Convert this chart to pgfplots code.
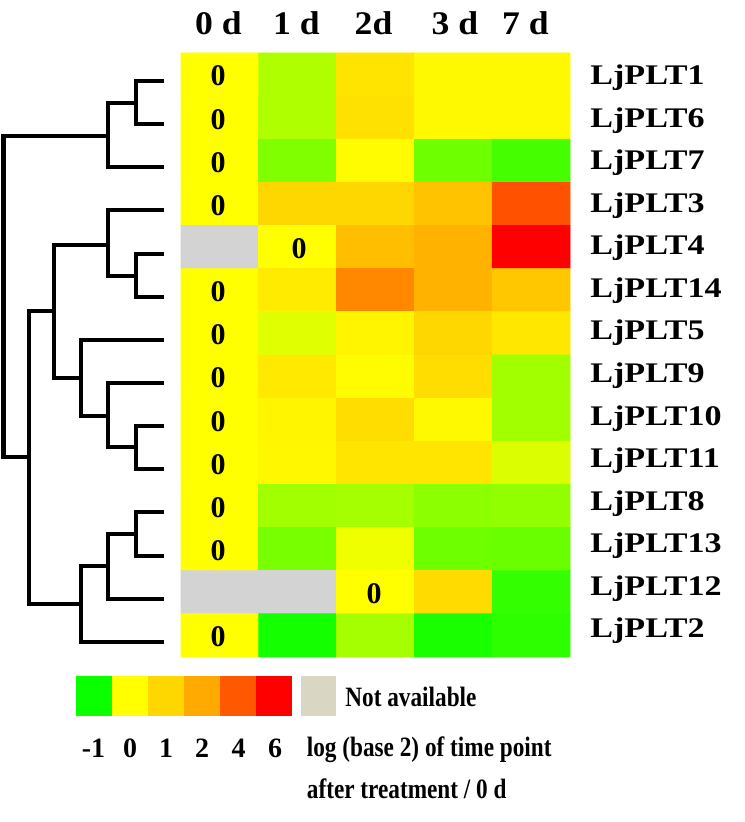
\documentclass[border=0pt]{standalone}
\usepackage{fontspec}
\setmainfont{Liberation Serif}
\usepackage{graphicx}
\usepackage{pgfplots}
\usepackage{pgfplotstable}
\pgfplotsset{compat=1.18}

% heat values, row r = gene (top to bottom), col c = 0d,1d,2d,3d,7d
% -2 marks "not available" (grey)
\pgfplotstableread{
c r v
0 0 0
1 0 -0.31
2 0 0.68
3 0 0.15
4 0 0.15
0 1 0
1 1 -0.31
2 1 0.75
3 1 0.15
4 1 0.15
0 2 0
1 2 -0.5
2 2 0.1
3 2 -0.57
4 2 -0.73
0 3 0
1 3 1.0
2 3 1.0
3 3 1.45
4 3 4.1
0 4 -2
1 4 0
2 4 1.55
3 4 1.8
4 4 6
0 5 0
1 5 0.5
2 5 2.8
3 5 1.8
4 5 1.35
0 6 0
1 6 -0.12
2 6 0.25
3 6 1.0
4 6 0.6
0 7 0
1 7 0.55
2 7 0.1
3 7 0.85
4 7 -0.37
0 8 0
1 8 0.25
2 8 0.85
3 8 0.15
4 8 -0.37
0 9 0
1 9 0.2
2 9 0.65
3 9 0.65
4 9 -0.14
0 10 0
1 10 -0.37
2 10 -0.35
3 10 -0.45
4 10 -0.43
0 11 0
1 11 -0.53
2 11 -0.06
3 11 -0.57
4 11 -0.59
0 12 -2
1 12 -2
2 12 0
3 12 0.9
4 12 -0.8
0 13 0
1 13 -0.92
2 13 -0.35
3 13 -0.9
4 13 -0.82
}\heat

\newcommand{\hd}[1]{\fontsize{16.5}{18}\selectfont\bfseries\scalebox{1.08}[1]{#1}}
\newcommand{\gn}[1]{\fontsize{14.2}{16}\selectfont\bfseries\scalebox{1.2}[1]{#1}}
\newcommand{\zr}{\fontsize{15}{17}\selectfont\bfseries 0}
\newcommand{\legtxt}[1]{\fontsize{14}{16}\selectfont\bfseries\scalebox{0.83}[1]{#1}}
\newcommand{\legnum}[1]{\fontsize{14}{16}\selectfont\bfseries #1}

\begin{document}
\begin{tikzpicture}
\begin{axis}[x=0.5pt, y=0.5pt, y dir=reverse,
  xmin=0, xmax=744, ymin=0, ymax=822,
  axis line style={draw=none}, xtick=\empty, ytick=\empty,
  clip=false, scale only axis,
  colormap={heat}{rgb255(0cm)=(211,211,211) rgb255(1cm)=(0,255,0)
    rgb255(2cm)=(255,255,0) rgb255(3cm)=(255,215,0) rgb255(4cm)=(255,170,0)
    rgb255(6cm)=(255,85,0) rgb255(8cm)=(255,0,0)},
  point meta min=-2, point meta max=6]

% heatmap
\addplot[matrix plot*, mesh/cols=5, point meta=explicit]
  table[x expr={181+77.8*(\thisrow{c}+0.5)}, y expr={53+43.14*(\thisrow{r}+0.5)}, meta=v] {\heat};

% dendrogram
\addplot[black, line width=2.1pt, line join=miter, unbounded coords=jump] coordinates {
  (164,81) (136,81) (136,124) (164,124) (nan,nan)
  (136,103) (108,103) (108,167) (164,167) (nan,nan)
  (164,254) (136,254) (136,297) (164,297) (nan,nan)
  (164,210) (108,210) (108,276) (136,276) (nan,nan)
  (164,426) (136,426) (136,469) (164,469) (nan,nan)
  (164,383) (108,383) (108,447) (136,447) (nan,nan)
  (164,340) (81,340) (81,416) (108,416) (nan,nan)
  (108,245) (54,245) (54,378) (81,378) (nan,nan)
  (164,512) (136,512) (136,556) (164,556) (nan,nan)
  (136,534) (108,534) (108,599) (164,599) (nan,nan)
  (108,566) (81,566) (81,642) (164,642) (nan,nan)
  (54,311) (29,311) (29,604) (81,604) (nan,nan)
  (108,136) (3.5,136) (3.5,457) (29,457)
};

% legend colour boxes
\addplot[fill={rgb,255:red,10;green,255;blue,0}, draw=none] coordinates {(76,676) (112,676) (112,716) (76,716)} --cycle;
\addplot[fill={rgb,255:red,255;green,255;blue,0}, draw=none] coordinates {(112,676) (148,676) (148,716) (112,716)} --cycle;
\addplot[fill={rgb,255:red,255;green,215;blue,0}, draw=none] coordinates {(148,676) (184,676) (184,716) (148,716)} --cycle;
\addplot[fill={rgb,255:red,255;green,170;blue,0}, draw=none] coordinates {(184,676) (220,676) (220,716) (184,716)} --cycle;
\addplot[fill={rgb,255:red,255;green,88;blue,0}, draw=none] coordinates {(220,676) (256,676) (256,716) (220,716)} --cycle;
\addplot[fill={rgb,255:red,255;green,0;blue,0}, draw=none] coordinates {(256,676) (292,676) (292,716) (256,716)} --cycle;
\addplot[fill={rgb,255:red,218;green,214;blue,196}, draw=none] coordinates {(301,676) (336,676) (336,716) (301,716)} --cycle;

% column headers
\node[anchor=base] at (axis cs:218.5,35) {\hd{0 d}};
\node[anchor=base] at (axis cs:296.5,35) {\hd{1 d}};
\node[anchor=base] at (axis cs:373.5,35) {\hd{2d}};
\node[anchor=base] at (axis cs:455,35) {\hd{3 d}};
\node[anchor=base] at (axis cs:525.5,35) {\hd{7 d}};

% gene names
\foreach \g [count=\i from 0] in {LjPLT1,LjPLT6,LjPLT7,LjPLT3,LjPLT4,LjPLT14,LjPLT5,LjPLT9,LjPLT10,LjPLT11,LjPLT8,LjPLT13,LjPLT12,LjPLT2} {
  \edef\temp{\noexpand\node[anchor=base west, inner sep=0pt] at (axis cs:590,{85+42.5*\i}) {\noexpand\gn{\g}};}
  \temp
}

% zero labels
\foreach \r in {0,1,2,3,5,6,7,8,9,10,11,13} {
  \edef\temp{\noexpand\node at (axis cs:218,{54.5+43.14*(\r+0.5)}) {\noexpand\zr};}
  \temp
}
\node at (axis cs:299,{54.5+43.14*4.5}) {\zr};
\node at (axis cs:374,{54.5+43.14*12.5}) {\zr};

% legend text
\foreach \t/\xx in {-1/93.5,0/130,1/166,2/202,4/238.5,6/275} {
  \edef\temp{\noexpand\node[anchor=base] at (axis cs:\xx,757) {\noexpand\legnum{\t}};}
  \temp
}
\node[anchor=base west, inner sep=0pt] at (axis cs:345,706) {\legtxt{Not available}};
\node[anchor=base west, inner sep=0pt] at (axis cs:306.5,756) {\legtxt{log (base 2) of time point}};
\node[anchor=base west, inner sep=0pt] at (axis cs:306.5,798) {\legtxt{after treatment / 0 d}};
\end{axis}
\end{tikzpicture}
\end{document}
